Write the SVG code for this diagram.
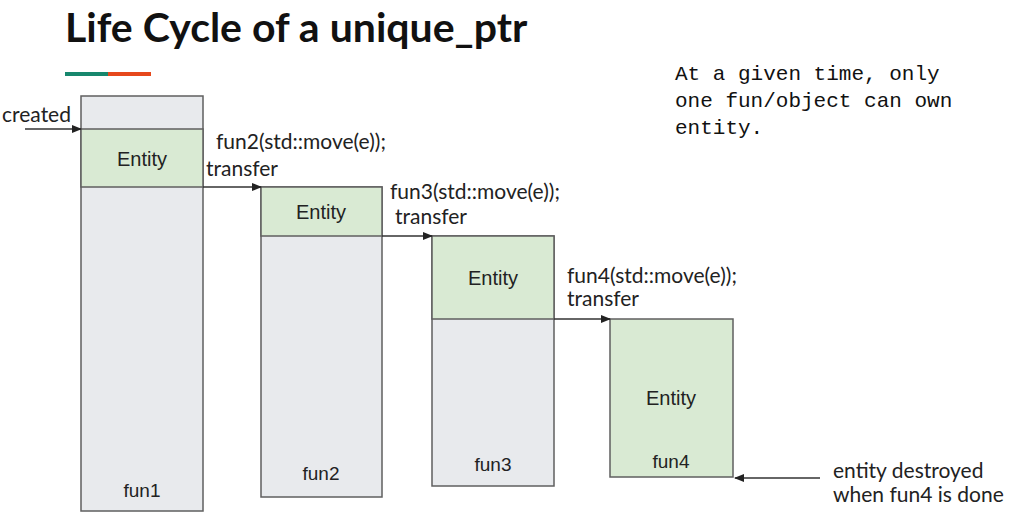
<svg xmlns="http://www.w3.org/2000/svg" width="1027" height="521" viewBox="0 0 1027 521">
<defs>
<marker id="ah" markerWidth="10" markerHeight="8" refX="9" refY="4" orient="auto" markerUnits="userSpaceOnUse">
<path d="M0,0 L10,4 L0,8 z" fill="#222"/>
</marker>
<style>
.box{fill:#e8eaed;stroke:#5f5f5f;stroke-width:1.5}
.ent{fill:#d9ead3;stroke:#5f5f5f;stroke-width:1.5}
.lbl{font-family:"Liberation Sans",Arial,sans-serif;font-size:20px;fill:#222;text-anchor:middle}
.fn{font-family:"Liberation Sans",Arial,sans-serif;font-size:19px;fill:#222;text-anchor:middle}
.note{font-family:Lato,"Liberation Sans",sans-serif;font-size:21px;fill:#222}
.mono{font-family:"Liberation Mono",monospace;font-size:21px;fill:#111}
.conn{stroke:#333;stroke-width:1.3;fill:none;marker-end:url(#ah)}
</style>
</defs>
<rect width="1027" height="521" fill="#fff"/>
<text x="65" y="42" font-family="Lato,'Open Sans',sans-serif" font-weight="bold" font-size="41" fill="#111">Life Cycle of a unique_ptr</text>
<rect x="65" y="72" width="43" height="4" fill="#17876d"/>
<rect x="108" y="72" width="43" height="4" fill="#e6481c"/>
<text class="mono" x="675" y="80">At a given time, only</text>
<text class="mono" x="675" y="107">one fun/object can own</text>
<text class="mono" x="675" y="134">entity.</text>
<g id="fun1">
<rect class="box" x="81" y="96" width="122" height="415"/>
<rect class="ent" x="81" y="129" width="122" height="58"/>
<text class="lbl" x="142" y="166">Entity</text>
<text class="fn" x="142" y="497">fun1</text>
</g>
<g id="fun2">
<rect class="box" x="261" y="187" width="121" height="310"/>
<rect class="ent" x="261" y="187" width="121" height="49"/>
<text class="lbl" x="321" y="219">Entity</text>
<text class="fn" x="321" y="480">fun2</text>
</g>
<g id="fun3">
<rect class="box" x="432" y="236" width="122" height="250"/>
<rect class="ent" x="432" y="236" width="122" height="83"/>
<text class="lbl" x="493" y="285">Entity</text>
<text class="fn" x="493" y="471">fun3</text>
</g>
<g id="fun4">
<rect class="ent" x="610" y="319" width="123" height="158"/>
<text class="lbl" x="671" y="405">Entity</text>
<text class="fn" x="671" y="468">fun4</text>
</g>
<g id="connectors">
<line class="conn" x1="25" y1="129" x2="81" y2="129"/>
<line class="conn" x1="203" y1="187" x2="261" y2="187"/>
<line class="conn" x1="382" y1="236" x2="432" y2="236"/>
<line class="conn" x1="554" y1="319" x2="610" y2="319"/>
<line class="conn" x1="820" y1="478" x2="735" y2="478"/>
</g>
<text class="note" x="2" y="122">created</text>
<text class="note" x="216" y="149">fun2(std::move(e));</text>
<text class="note" x="206" y="176">transfer</text>
<text class="note" x="390" y="199">fun3(std::move(e));</text>
<text class="note" x="395" y="224">transfer</text>
<text class="note" x="567" y="283">fun4(std::move(e));</text>
<text class="note" x="567" y="306">transfer</text>
<text class="note" x="833" y="478" font-size="20">entity destroyed</text>
<text class="note" x="833" y="502" font-size="20">when fun4 is done</text>
</svg>
